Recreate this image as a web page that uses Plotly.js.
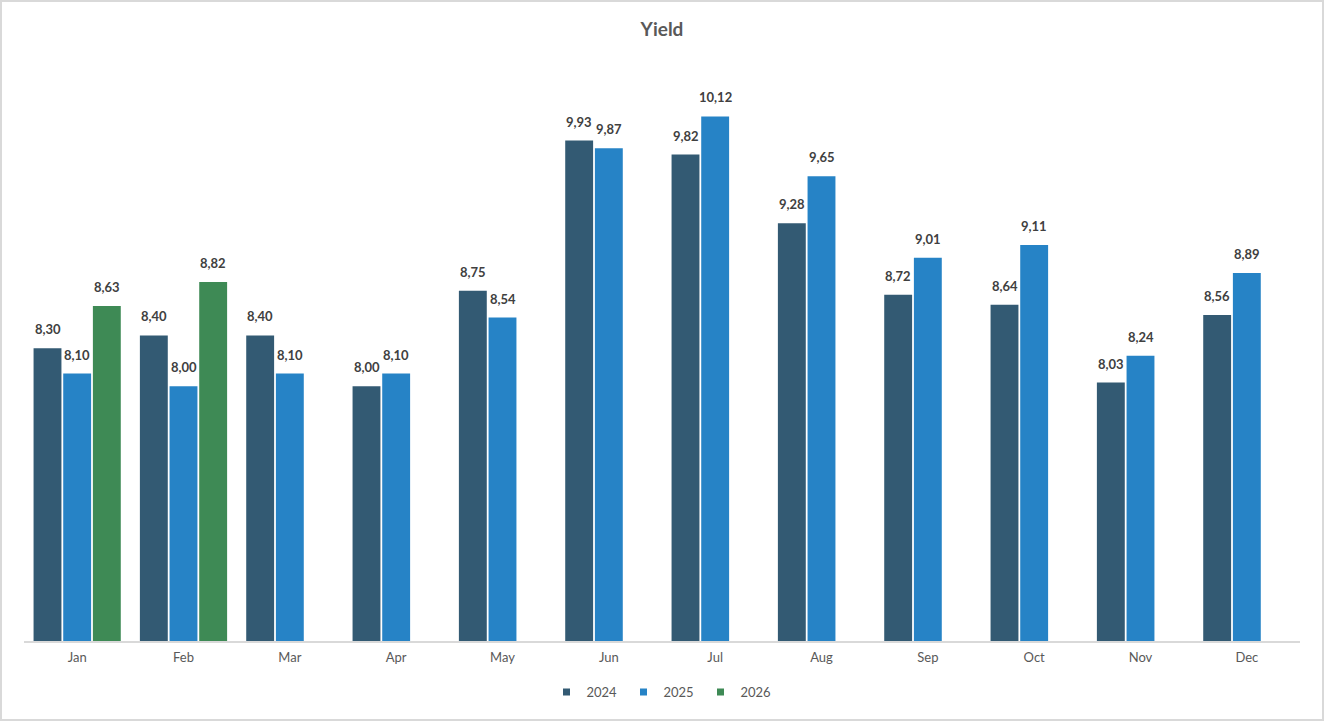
<!DOCTYPE html>
<html>
<head>
<meta charset="utf-8">
<script src="https://cdn.plot.ly/plotly-3.0.1.min.js"></script>
<style>
  html, body { margin: 0; padding: 0; background: #fff; }
  #wrap { width: 1324px; height: 721px; box-sizing: border-box; border: 2px solid #D9D9D9; background: #fff; }
  #chart { width: 1320px; height: 717px; }
</style>
</head>
<body>
<div id="wrap"><div id="chart"></div></div>
<script>
const months = ["Jan","Feb","Mar","Apr","May","Jun","Jul","Aug","Sep","Oct","Nov","Dec"];
const seriesNames = ["2024","2025","2026"];
const y2024 = [8.30, 8.40, 8.40, 8.00, 8.75, 9.93, 9.82, 9.28, 8.72, 8.64, 8.03, 8.56];
const y2025 = [8.10, 8.00, 8.10, 8.10, 8.54, 9.87, 10.12, 9.65, 9.01, 9.11, 8.24, 8.89];
const y2026 = [8.63, 8.82, null, null, null, null, null, null, null, null, null, null];
const colors = ["#335A73", "#2683C6", "#3E8A55"];

const allSeries = [y2024, y2025, y2026];
const W = 1320, H = 717;
const margin = {l: 22, r: 22, t: 66, b: 78};
const bargap = 0.163, bargroupgap = 0.06;
const catWidth = (W - margin.l - margin.r) / months.length;
const slot = catWidth * (1 - bargap) / allSeries.length;

const fontFam = "Lato, 'Open Sans', 'DejaVu Sans', sans-serif";

const traces = allSeries.map((ys, i) => ({
  type: "bar",
  name: seriesNames[i],
  x: months,
  y: ys,
  marker: {color: colors[i]},
  showlegend: false,
  legendgroup: seriesNames[i],
  hoverinfo: "x+y+name"
}));

// legend entries with small square markers, as in the reference
allSeries.forEach((ys, i) => {
  traces.push({
    type: "scatter",
    mode: "markers",
    name: seriesNames[i],
    legendgroup: seriesNames[i],
    x: [null], y: [null],
    marker: {symbol: "square", size: 7, color: colors[i]},
    showlegend: true,
    hoverinfo: "skip"
  });
});

const annotations = [];
allSeries.forEach((ys, i) => {
  ys.forEach((v, j) => {
    if (v === null) return;
    annotations.push({
      x: months[j], y: v, xref: "x", yref: "y",
      xshift: (i - 1) * slot, yshift: 19,
      yanchor: "middle", xanchor: "center",
      text: v.toFixed(2).replace(".", ","),
      showarrow: false,
      font: {family: fontFam, size: 13, color: "#404040", weight: "bold"}
    });
  });
});

const layout = {
  width: W, height: H,
  margin: margin,
  paper_bgcolor: "#fff", plot_bgcolor: "#fff",
  barmode: "group", bargap: bargap, bargroupgap: bargroupgap,
  separators: ",.",
  font: {family: fontFam, color: "#595959"},
  title: {
    text: "<b>Yield</b>",
    x: 0.5, xanchor: "center",
    y: 1 - 27 / H, yref: "container", yanchor: "middle",
    font: {family: fontFam, size: 19, color: "#595959"}
  },
  xaxis: {
    type: "category",
    showline: true, linecolor: "#D9D9D9", linewidth: 2,
    ticks: "", showgrid: false, zeroline: false,
    tickfont: {family: fontFam, size: 13, color: "#595959"},
    ticklabelstandoff: 3
  },
  yaxis: {
    range: [6, 10.5],
    visible: false, showgrid: false, zeroline: false
  },
  legend: {
    orientation: "h",
    x: 0.5, xanchor: "center",
    y: 1 - 690 / H, yref: "container", yanchor: "middle",
    font: {family: fontFam, size: 13, color: "#595959"},
    itemwidth: 30, entrywidth: 32, tracegroupgap: 0
  },
  annotations: annotations,
  showlegend: true
};

Plotly.newPlot("chart", traces, layout, {displayModeBar: false});
</script>
</body>
</html>
